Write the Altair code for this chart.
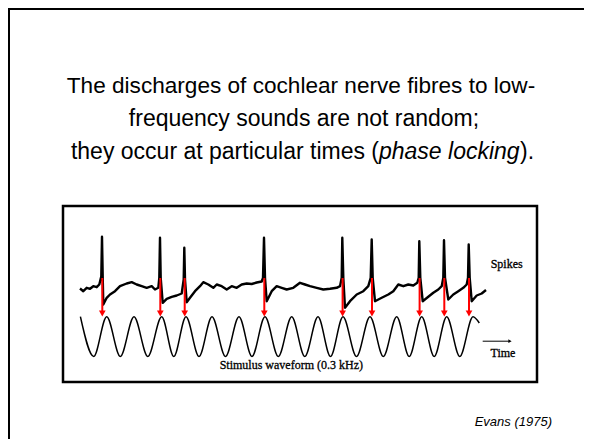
import altair as alt
import pandas as pd

# ---- data (time in px-units across the figure, amplitude in px-units above the box bottom)
trace_t = [17.0, 20.3, 23.7, 27.0, 30.3, 33.7, 36.3,
           38.3, 39.0, 39.7, 40.3, 43.7, 47.0, 52.0, 57.0, 63.7, 68.7, 73.7, 78.7, 83.7, 88.7, 92.0, 95.3,
           96.3, 97.0, 97.7, 99.7, 103.7, 108.7, 113.7, 118.7,
           120.7, 121.3, 122.0, 123.7, 127.0, 132.0, 137.0, 140.3, 145.3, 150.3, 153.7, 158.7, 163.7, 168.7,
           173.7, 178.7, 183.7, 188.7, 193.7, 198.7,
           200.0, 201.0, 202.0, 203.7, 208.7, 213.7, 218.7, 223.7, 230.3, 237.0, 242.0, 247.0, 253.7, 260.3,
           267.0, 273.7, 277.0,
           278.7, 279.3, 280.3, 282.0, 287.0, 293.7, 300.3, 305.3,
           307.7, 308.7, 309.7, 312.0, 318.7, 325.3, 330.3, 335.3, 340.3, 345.3, 350.3, 354.3,
           355.7, 356.3, 357.3, 359.7, 365.3, 370.3, 375.3, 378.7,
           380.3, 381.0, 382.0, 385.3, 390.3, 395.3, 400.3, 403.7,
           405.0, 405.7, 406.7, 408.7, 413.7, 418.7, 423.0]
trace_v = [93.5, 90.8, 94.2, 93.2, 95.8, 94.8, 97.5,
           105.8, 145.2, 105.8, 77.5, 84.2, 87.5, 90.8, 95.8, 98.5, 99.8, 97.5, 95.8, 94.2, 95.8, 92.5, 94.2,
           104.2, 144.2, 104.2, 79.2, 83.2, 85.2, 86.5, 88.5,
           102.5, 134.2, 102.5, 79.8, 84.2, 90.8, 95.8, 99.8, 97.5, 94.2, 97.5, 95.8, 92.5, 95.8,
           94.2, 97.5, 98.5, 98.0, 99.5, 100.5,
           104.2, 144.2, 104.2, 80.8, 90.8, 95.8, 94.2, 92.5, 94.2, 99.2, 97.5, 95.8, 94.2, 92.5,
           93.2, 94.2, 95.8,
           104.2, 144.2, 104.2, 74.2, 80.8, 87.5, 90.8, 95.8,
           104.2, 142.5, 104.2, 80.8, 84.2, 87.5, 90.8, 97.5, 95.8, 97.5, 96.5, 99.2,
           104.2, 140.8, 104.2, 80.8, 85.2, 89.2, 92.5, 95.8,
           104.2, 141.8, 104.2, 82.5, 87.5, 90.8, 94.2, 97.5,
           104.2, 137.5, 104.2, 80.8, 86.5, 88.5, 92.0]

sine_t = [17.4, 30.7, 43.7, 57.3, 71.0, 84.8, 98.7, 110.8, 123.0, 136.0, 149.0, 162.5, 176.0, 189.0,
          202.0, 215.3, 228.7, 241.8, 255.0, 267.5, 280.0, 293.5, 307.0, 320.3, 333.7, 346.2, 358.7,
          371.2, 383.7, 396.8, 410.0, 416.3]
sine_v = [65.3, 25.6, 65.3, 25.6, 65.3, 25.6, 65.3, 25.6, 65.3, 25.6, 65.3, 25.6, 65.3, 25.6,
          65.3, 25.6, 65.3, 25.6, 65.3, 25.6, 65.3, 25.6, 65.3, 25.6, 65.3, 25.6, 65.3,
          25.6, 65.3, 25.6, 65.3, 59.0]

spike_t = [39.3, 97.3, 121.7, 201.3, 279.6, 309.0, 356.6, 381.3, 406.0]

title_lines = ["The discharges of cochlear nerve fibres to low-",
               "frequency sounds are not random;",
               "they occur at particular times (", "phase locking", ")."]
citation = "Evans (1975)"

W, H = 474, 176
xs = alt.Scale(domain=[0, W], nice=False, zero=False)
ys = alt.Scale(domain=[0, H], nice=False, zero=False)

trace_df = pd.DataFrame({"t": trace_t, "v": trace_v})
sine_df = pd.DataFrame({"t": sine_t, "v": sine_v})
spike_df = pd.DataFrame({"t": spike_t})
one = alt.Data(values=[{}])

trace = alt.Chart(trace_df).mark_line(color="black", strokeWidth=2.4, strokeJoin="round").encode(
    x=alt.X("t:Q", scale=xs, axis=None), y=alt.Y("v:Q", scale=ys, axis=None))
sine = alt.Chart(sine_df).mark_line(color="black", strokeWidth=1.5, interpolate="monotone").encode(
    x=alt.X("t:Q", scale=xs, axis=None), y=alt.Y("v:Q", scale=ys, axis=None))
shafts = alt.Chart(spike_df).mark_rule(color="#ff0000", strokeWidth=2).encode(
    x=alt.X("t:Q", scale=xs, axis=None), y=alt.datum(104.0, scale=ys), y2=alt.datum(70.0))
heads = alt.Chart(spike_df).mark_point(shape="triangle-down", filled=True, color="#ff0000",
                                        size=45, opacity=1).encode(
    x=alt.X("t:Q", scale=xs, axis=None), y=alt.datum(68.5, scale=ys))

time_arrow = alt.Chart(one).mark_rule(color="black", strokeWidth=1).encode(
    x=alt.datum(419.7, scale=xs), x2=alt.datum(446.0), y=alt.datum(40.8, scale=ys))
time_head = alt.Chart(one).mark_point(shape="triangle-right", filled=True, color="black",
                                      size=14, opacity=1).encode(
    x=alt.datum(447.0, scale=xs), y=alt.datum(40.8, scale=ys))

serif = dict(font="Liberation Serif", fontSize=12, color="black", baseline="middle", align="center",
             stroke="black", strokeWidth=0.3)
lbl_spikes = alt.Chart(one).mark_text(text="Spikes", **serif).encode(
    x=alt.datum(443.7, scale=xs), y=alt.datum(118.5, scale=ys))
lbl_time = alt.Chart(one).mark_text(text="Time", **serif).encode(
    x=alt.datum(440.0, scale=xs), y=alt.datum(29.0, scale=ys))
lbl_stim = alt.Chart(one).mark_text(text="Stimulus waveform (0.3 kHz)", **serif).encode(
    x=alt.datum(228.3, scale=xs), y=alt.datum(16.8, scale=ys))

sans = dict(font="Liberation Sans", fontSize=23, color="black", baseline="alphabetic")
t1 = alt.Chart(one).mark_text(text=title_lines[0], align="center", fontSize=22.6,
                              font="Liberation Sans", color="black", baseline="alphabetic").encode(
    x=alt.value(238), y=alt.value(-113))
t2 = alt.Chart(one).mark_text(text=title_lines[1], align="center", **sans).encode(
    x=alt.value(241), y=alt.value(-80))
t3a = alt.Chart(one).mark_text(text=title_lines[2], align="right", **sans).encode(
    x=alt.value(316), y=alt.value(-47))
t3b = alt.Chart(one).mark_text(text=title_lines[3], align="left", fontStyle="italic", **sans).encode(
    x=alt.value(316), y=alt.value(-47))
t3c = alt.Chart(one).mark_text(text=title_lines[4], align="left", **sans).encode(
    x=alt.value(457), y=alt.value(-47))
cite = alt.Chart(one).mark_text(text=citation, align="right", font="Liberation Sans", fontSize=13,
                                fontStyle="italic", color="black", baseline="alphabetic").encode(
    x=alt.value(489), y=alt.value(220))

border_v = alt.Chart(one).mark_rule(color="black", strokeWidth=3).encode(
    x=alt.value(-54.5), y=alt.value(-199), y2=alt.value(240))
border_h = alt.Chart(one).mark_rule(color="black", strokeWidth=3).encode(
    x=alt.value(-56), x2=alt.value(530), y=alt.value(-197.5))

chart = alt.layer(border_v, border_h, sine, trace, shafts, heads, time_arrow, time_head,
                  lbl_spikes, lbl_time, lbl_stim, t1, t2, t3a, t3b, t3c, cite).properties(
    width=W, height=H,
    autosize=alt.AutoSizeParams(type="none"),
    padding={"left": 55, "top": 198, "right": 47, "bottom": 57},
    background="white",
).configure_view(stroke="black", strokeWidth=2.5)

chart.save("out.html", embed_options={"renderer": "svg", "actions": False})
